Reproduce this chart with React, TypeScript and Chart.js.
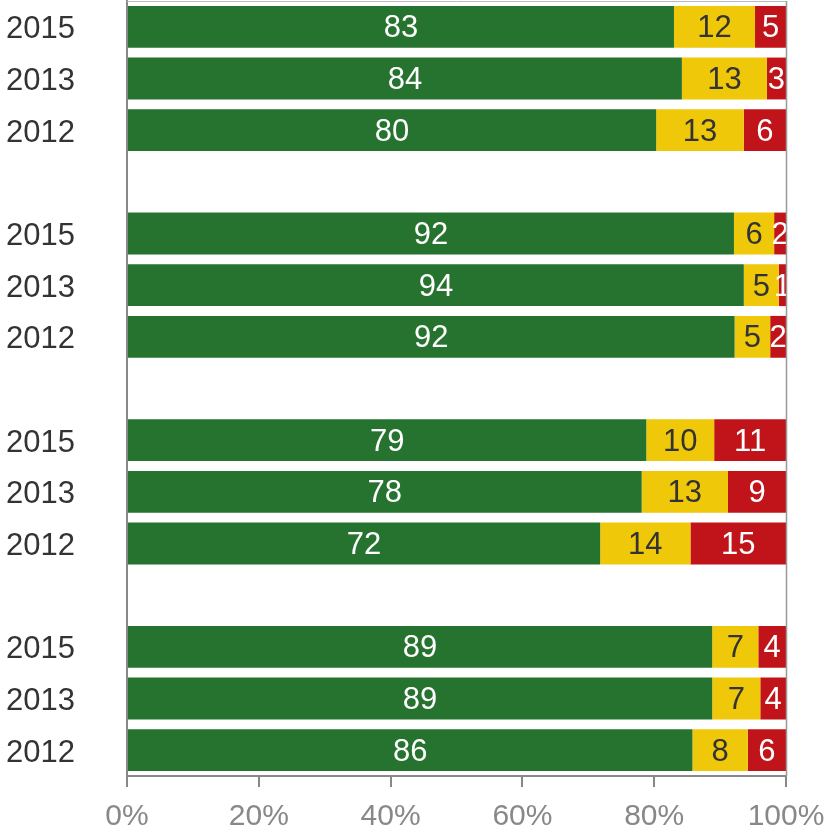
import React, { useEffect, useRef } from "react";
import { Chart, registerables } from "chart.js";

Chart.register(...registerables);

const categories = ["2015", "2013", "2012", "", "2015", "2013", "2012", "", "2015", "2013", "2012", "", "2015", "2013", "2012"];
const positive = [83.0, 84.2, 80.3, null, 92.1, 93.6, 92.2, null, 78.8, 78.1, 71.8, null, 88.8, 88.8, 85.8];
const neutral = [12.3, 12.9, 13.3, null, 6.1, 5.3, 5.4, null, 10.3, 13.1, 13.7, null, 7.0, 7.3, 8.4];
const negative = [4.7, 2.9, 6.4, null, 1.8, 1.1, 2.4, null, 10.9, 8.8, 14.5, null, 4.2, 3.9, 5.8];
const xTicks = [0, 20, 40, 60, 80, 100];

const GREEN = "#267330";
const YELLOW = "#efc80a";
const RED = "#c0141a";
const FONT = "'Liberation Sans', Arial, sans-serif";

const labelPlugin = {
  id: "segLabels",
  afterDatasetsDraw(chart: any) {
    const { ctx, chartArea } = chart;
    ctx.save();
    ctx.beginPath();
    ctx.rect(chartArea.left, chartArea.top, chartArea.right - chartArea.left, chartArea.bottom - chartArea.top);
    ctx.clip();
    ctx.font = `31px ${FONT}`;
    ctx.textAlign = "center";
    ctx.textBaseline = "middle";
    chart.data.datasets.forEach((ds: any, di: number) => {
      const meta = chart.getDatasetMeta(di);
      meta.data.forEach((el: any, i: number) => {
        const v = ds.data[i];
        if (v == null) return;
        const cx = (el.x + el.base) / 2;
        ctx.fillStyle = ds.labelColor;
        ctx.fillText(String(Math.round(v)), cx, el.y + 2);
      });
    });
    ctx.restore();
  },
};

const framePlugin = {
  id: "frame",
  afterDraw(chart: any) {
    const { ctx, chartArea } = chart;
    ctx.save();
    ctx.strokeStyle = "#999";
    ctx.lineWidth = 1.5;
    ctx.beginPath();
    ctx.moveTo(chartArea.right + 0.5, chartArea.top);
    ctx.lineTo(chartArea.right + 0.5, chartArea.bottom);
    ctx.stroke();
    ctx.strokeStyle = "#bbb";
    ctx.lineWidth = 1;
    ctx.beginPath();
    ctx.moveTo(chartArea.left, chartArea.top + 0.5);
    ctx.lineTo(chartArea.right, chartArea.top + 0.5);
    ctx.stroke();
    ctx.restore();
  },
};

export default function App() {
  const ref = useRef<HTMLCanvasElement | null>(null);
  useEffect(() => {
    document.body.style.margin = "0";
    const chart = new Chart(ref.current!, {
      type: "bar",
      data: {
        labels: categories,
        datasets: [
          { data: positive, backgroundColor: GREEN, labelColor: "#ffffff" } as any,
          { data: neutral, backgroundColor: YELLOW, labelColor: "#333333" } as any,
          { data: negative, backgroundColor: RED, labelColor: "#ffffff" } as any,
        ],
      },
      options: {
        indexAxis: "y",
        responsive: false,
        animation: false,
        layout: { padding: { top: 1, right: 44, left: 0, bottom: 0 } },
        datasets: { bar: { categoryPercentage: 0.81, barPercentage: 1 } },
        plugins: { legend: { display: false }, tooltip: { enabled: false } },
        scales: {
          x: {
            stacked: true,
            min: 0,
            max: 100,
            afterBuildTicks: (s: any) => {
              s.ticks = xTicks.map((v) => ({ value: v }));
            },
            afterFit: (s: any) => {
              s.height = 56;
              s.paddingLeft = 0;
              s.paddingRight = 0;
            },
            ticks: {
              callback: (v: any) => v + "%",
              color: "#888",
              font: { family: FONT, size: 30 },
              padding: 12,
              maxRotation: 0,
            },
            grid: { drawOnChartArea: false, drawTicks: true, tickLength: 11, color: "#888", lineWidth: 2 },
            border: { display: true, color: "#888", width: 2 },
          },
          y: {
            stacked: true,
            afterFit: (s: any) => {
              s.width = 127;
              s.paddingTop = 0;
              s.paddingBottom = 0;
            },
            ticks: {
              color: "#333",
              font: { family: FONT, size: 31 },
              padding: 52,
              labelOffset: 3,
              autoSkip: false,
            },
            grid: { display: false, drawTicks: false },
            border: { display: true, color: "#888", width: 2 },
          },
        },
      } as any,
      plugins: [labelPlugin, framePlugin],
    });
    return () => chart.destroy();
  }, []);
  return (
    <canvas
      ref={ref}
      width={830}
      height={832}
      style={{ display: "block", position: "absolute", left: 0, top: 0 }}
    />
  );
}
